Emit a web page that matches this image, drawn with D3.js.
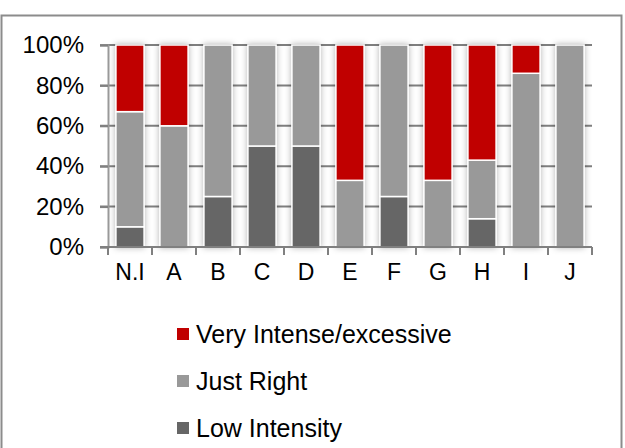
<!DOCTYPE html>
<html>
<head>
<meta charset="utf-8">
<script src="https://cdn.jsdelivr.net/npm/d3@7"></script>
<style>
  html, body { margin: 0; padding: 0; background: #fff; }
  svg { display: block; font-family: "Liberation Sans", Arial, sans-serif; }
</style>
</head>
<body>
<svg id="chart" width="625" height="448"></svg>
<script>
const categories = ["N.I", "A", "B", "C", "D", "E", "F", "G", "H", "I", "J"];
const lowIntensity = [10, 0, 25, 50, 50, 0, 25, 0, 14, 0, 0];
const justRight = [57, 60, 75, 50, 50, 33, 75, 33, 29, 86, 100];
const veryIntense = [33, 40, 0, 0, 0, 67, 0, 67, 57, 14, 0];
const seriesNames = ["Low Intensity", "Just Right", "Very Intense/excessive"];
const seriesColors = ["#666666", "#999999", "#C00000"];
const yTicks = [0, 20, 40, 60, 80, 100];

const svg = d3.select("#chart");

// outer frame
svg.append("rect").attr("x", 1.5).attr("y", 15.5).attr("width", 620).attr("height", 440)
  .attr("fill", "#fff").attr("stroke", "#8c8c8c").attr("stroke-width", 2);

const defs = svg.append("defs");
const f = defs.append("filter").attr("id", "sh").attr("x", "-40%").attr("y", "-10%").attr("width", "180%").attr("height", "120%");
f.append("feDropShadow").attr("dx", 0).attr("dy", 0).attr("stdDeviation", 3)
  .attr("flood-color", "#000").attr("flood-opacity", 0.3);

const pLeft = 108, pRight = 592, pTop = 45, pBottom = 247;
const x = d3.scaleBand().domain(categories).range([pLeft, pRight]).paddingInner(0.36).paddingOuter(0.18);
const y = d3.scaleLinear().domain([0, 100]).range([pBottom, pTop]);

// gridlines
svg.append("g").selectAll("line").data(yTicks.filter(d => d > 0)).join("line")
  .attr("x1", pLeft - 8).attr("x2", pRight).attr("y1", d => y(d)).attr("y2", d => y(d))
  .attr("stroke", "#808080").attr("stroke-width", 2);

// stacked data
const rows = categories.map((c, i) => ({ cat: c, low: lowIntensity[i], just: justRight[i], very: veryIntense[i] }));
const stacked = d3.stack().keys(["low", "just", "very"])(rows);

const barG = svg.append("g");
categories.forEach((c, i) => {
  const g = barG.append("g").attr("filter", "url(#sh)");
  stacked.forEach((s, k) => {
    const d = s[i];
    if (d[1] - d[0] <= 0) return;
    g.append("rect")
      .attr("x", x(c)).attr("width", x.bandwidth())
      .attr("y", y(d[1])).attr("height", y(d[0]) - y(d[1]))
      .attr("fill", seriesColors[k]).attr("stroke", "#fff").attr("stroke-width", 1.5);
  });
});

// y axis
const yAxis = svg.append("g").attr("transform", `translate(${pLeft},0)`)
  .call(d3.axisLeft(y).tickValues(yTicks).tickFormat(d => d + "%").tickSize(8).tickPadding(16));
yAxis.select(".domain").attr("stroke", "#999").attr("stroke-width", 2);
yAxis.selectAll(".tick line").attr("stroke", "#808080").attr("stroke-width", 2);
yAxis.selectAll("text").attr("font-size", 24).attr("fill", "#000")
  .attr("font-family", "'Liberation Sans', Arial, sans-serif");

// x axis
const xAxis = svg.append("g").attr("transform", `translate(0,${pBottom})`)
  .call(d3.axisBottom(x).tickSize(0).tickPadding(33));
xAxis.select(".domain").remove();
xAxis.selectAll("text").attr("font-size", 23).attr("fill", "#000").attr("dy", 0)
  .attr("font-family", "'Liberation Sans', Arial, sans-serif");
svg.append("line").attr("x1", pLeft - 8).attr("x2", pRight).attr("y1", pBottom).attr("y2", pBottom)
  .attr("stroke", "#808080").attr("stroke-width", 2);
const bounds = categories.map(c => x(c) - x.step() * x.paddingInner() / 2).concat([pRight]);
svg.append("g").selectAll("line").data(bounds).join("line")
  .attr("x1", d => d).attr("x2", d => d).attr("y1", pBottom).attr("y2", pBottom + 8)
  .attr("stroke", "#808080").attr("stroke-width", 2);

// legend
const legendOrder = [2, 1, 0];
const lg = svg.append("g");
legendOrder.forEach((k, j) => {
  const cy = 334 + j * 47;
  lg.append("rect").attr("x", 177).attr("y", cy - 6).attr("width", 12).attr("height", 12)
    .attr("fill", seriesColors[k]);
  lg.append("text").attr("x", 196).attr("y", cy).attr("dy", "0.35em")
    .attr("font-size", 25).attr("fill", "#000").text(seriesNames[k]);
});
</script>
</body>
</html>
